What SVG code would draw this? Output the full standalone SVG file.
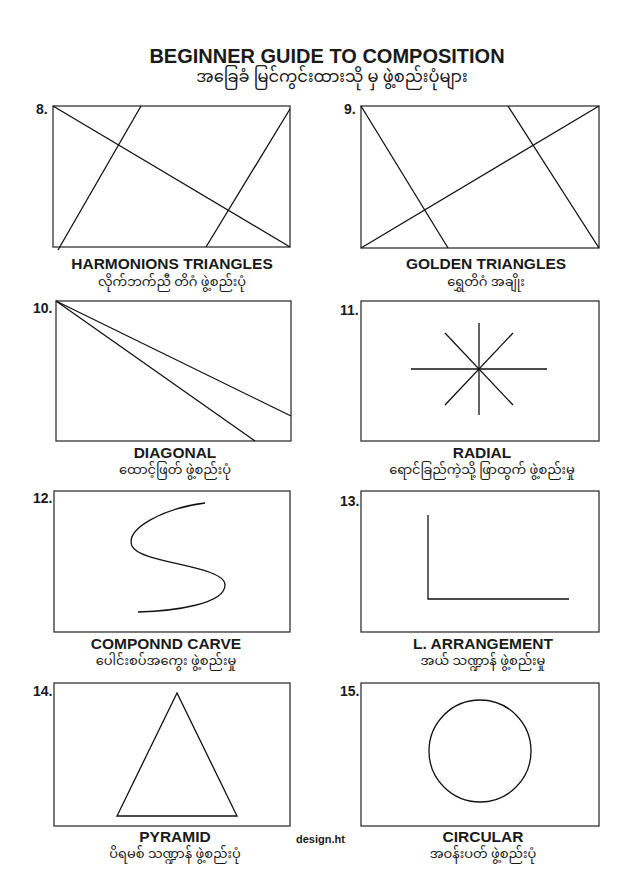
<svg xmlns="http://www.w3.org/2000/svg" width="640" height="896" viewBox="0 0 640 896">
<style>
.frame{fill:none;stroke:#333;stroke-width:1.3}
.ln{fill:none;stroke:#111;stroke-width:1.3}
.ttl{font-family:"Liberation Sans",Arial,sans-serif;font-weight:bold;font-size:20px;fill:#1a1a1a;text-anchor:middle}
.en{font-family:"Liberation Sans",Arial,sans-serif;font-weight:bold;font-size:15.5px;fill:#1a1a1a;text-anchor:middle}
.my{font-family:"Noto Sans Myanmar","Padauk","Myanmar Text","Noto Sans",sans-serif;font-size:13px;fill:#1a1a1a;text-anchor:middle}
.myt{font-family:"Noto Sans Myanmar","Padauk","Myanmar Text","Noto Sans",sans-serif;font-size:16.3px;fill:#1a1a1a;text-anchor:middle}
.num{font-family:"Liberation Sans",Arial,sans-serif;font-weight:bold;font-size:14px;fill:#1a1a1a}
.sm{font-family:"Liberation Sans",Arial,sans-serif;font-weight:bold;font-size:11px;fill:#1a1a1a}
</style>
<rect width="640" height="896" fill="#fff"/>
<g id="title">
<text class="ttl" x="327" y="63">BEGINNER GUIDE TO COMPOSITION</text>
<text class="myt" x="332" y="82">အခြေခံ မြင်ကွင်းထားသို မှ ဖွဲ့စည်းပုံများ</text>
</g>
<g id="panel8">
<text class="num" x="36" y="114">8.</text>
<rect class="frame" x="53" y="106" width="237" height="141"/>
<line class="ln" x1="53" y1="106" x2="290" y2="247"/>
<line class="ln" x1="141" y1="106" x2="58" y2="250"/>
<line class="ln" x1="290" y1="109" x2="206" y2="247"/>
<text class="en" x="172" y="269">HARMONIONS TRIANGLES</text>
<text class="my" x="172" y="286">လိုက်ဘက်ညီ တိဂံ ဖွဲ့စည်းပုံ</text>
</g>
<g id="panel9">
<text class="num" x="344" y="114">9.</text>
<rect class="frame" x="361" y="106" width="238" height="142"/>
<line class="ln" x1="361" y1="106" x2="448" y2="248"/>
<line class="ln" x1="508" y1="106" x2="599" y2="248"/>
<line class="ln" x1="361" y1="248" x2="599" y2="106"/>
<text class="en" x="486" y="269">GOLDEN TRIANGLES</text>
<text class="my" x="486" y="286">ရွှေတိဂံ အချိုး</text>
</g>
<g id="panel10">
<text class="num" x="33" y="313">10.</text>
<rect class="frame" x="56" y="301" width="235" height="140"/>
<line class="ln" x1="56" y1="301" x2="291" y2="416"/>
<line class="ln" x1="56" y1="301" x2="255" y2="441"/>
<text class="en" x="175" y="458">DIAGONAL</text>
<text class="my" x="175" y="474">ထောင့်ဖြတ် ဖွဲ့စည်းပုံ</text>
</g>
<g id="panel11">
<text class="num" x="340" y="315">11.</text>
<rect class="frame" x="361" y="301" width="238" height="140"/>
<line class="ln" x1="411" y1="369" x2="547" y2="369"/>
<line class="ln" x1="479" y1="323" x2="479" y2="415"/>
<line class="ln" x1="445" y1="333" x2="513" y2="405"/>
<line class="ln" x1="513" y1="333" x2="445" y2="405"/>
<text class="en" x="482" y="458">RADIAL</text>
<text class="my" x="482" y="474">ရောင်ခြည်ကဲ့သို့ ဖြာထွက် ဖွဲ့စည်းမှု</text>
</g>
<g id="panel12">
<text class="num" x="33" y="503">12.</text>
<rect class="frame" x="54" y="491" width="236" height="141"/>
<path class="ln" d="M205,503 C165,508 125,528 132,546 C140,564 225,565 225,585 C225,604 175,611 138,612"/>
<text class="en" x="166" y="649">COMPONND CARVE</text>
<text class="my" x="166" y="665">ပေါင်းစပ်အကွေး ဖွဲ့စည်းမှု</text>
</g>
<g id="panel13">
<text class="num" x="340" y="506">13.</text>
<rect class="frame" x="361" y="491" width="238" height="141"/>
<polyline class="ln" points="428,515 428,599 569,599"/>
<text class="en" x="483" y="649">L. ARRANGEMENT</text>
<text class="my" x="483" y="665">အယ် သဏ္ဍာန် ဖွဲ့စည်းမှု</text>
</g>
<g id="panel14">
<text class="num" x="33" y="696">14.</text>
<rect class="frame" x="54" y="683" width="236" height="143"/>
<polygon class="ln" points="177,693 117,816 237,816"/>
<text class="en" x="175" y="842">PYRAMID</text>
<text class="my" x="175" y="858">ပိရမစ် သဏ္ဍာန် ဖွဲ့စည်းပုံ</text>
</g>
<g id="panel15">
<text class="num" x="340" y="696">15.</text>
<rect class="frame" x="361" y="683" width="238" height="143"/>
<circle class="ln" cx="480" cy="751" r="51"/>
<text class="en" x="483" y="842">CIRCULAR</text>
<text class="my" x="483" y="858">အဝန်းပတ် ဖွဲ့စည်းပုံ</text>
</g>
<g id="credit">
<text class="sm" x="296" y="843">design.ht</text>
</g>
<g id="connectors"/>
</svg>
